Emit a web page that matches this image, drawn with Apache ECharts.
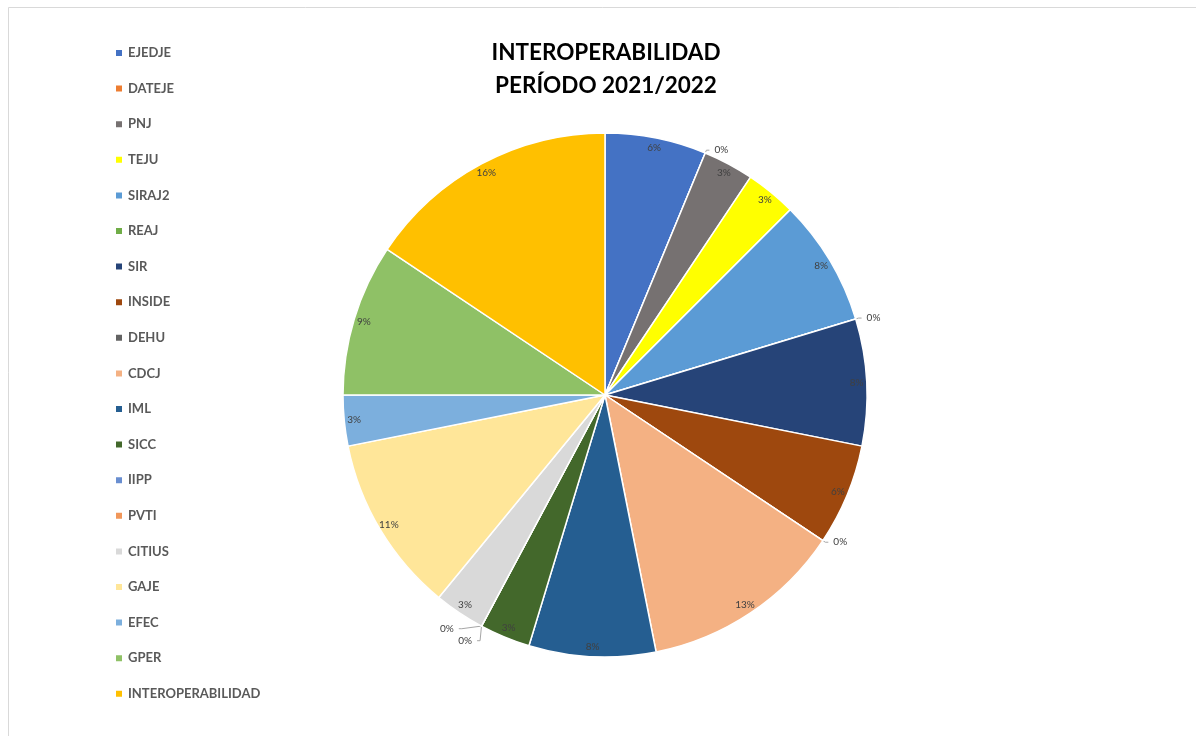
<!DOCTYPE html>
<html>
<head>
<meta charset="utf-8">
<script src="https://cdn.jsdelivr.net/npm/echarts@6/dist/echarts.min.js"></script>
<style>html,body{margin:0;padding:0;background:#fff;}#c{width:1196px;height:736px;}</style>
</head>
<body>
<div id="c"></div>
<script>
const categories = ['EJEDJE','DATEJE','PNJ','TEJU','SIRAJ2','REAJ','SIR','INSIDE','DEHU','CDCJ','IML','SICC','IIPP','PVTI','CITIUS','GAJE','EFEC','GPER','INTEROPERABILIDAD'];
const values = [4,0,2,2,5,0,5,4,0,8,5,2,0,0,2,7,2,6,10];
const colors = ['#4472C4','#ED7D31','#767171','#FFFF00','#5B9BD5','#70AD47','#264478','#9E480E','#636363','#F4B183','#255E91','#43682B','#698ED0','#F1975A','#D9D9D9','#FFE699','#7CAFDD','#8FC166','#FFC000'];
const titleText = 'INTEROPERABILIDAD\nPERÍODO 2021/2022';

const total = values.reduce((a,b)=>a+b,0);
const pct = v => Math.round(v/total*100) + '%';
const font = 'Lato, "Open Sans", sans-serif';

const mainData = categories.map((n,i)=>({
  name:n, value:values[i],
  itemStyle:{color:colors[i]},
  label: values[i]===0 ? {show:true} : {show:false},
  labelLine: values[i]===0 ? {show:true} : {show:false}
}));
const labelData = categories.map((n,i)=>({
  name:n, value:values[i],
  label:{show: values[i]!==0}
}));

const chart = echarts.init(document.getElementById('c'));
chart.setOption({
  animation:false,
  backgroundColor:'#fff',
  color: colors,
  title:{
    text:titleText, left:606, top:36, textAlign:'center', padding:0,
    textStyle:{fontFamily:font, fontWeight:'bold', fontSize:22.5, lineHeight:33, color:'#000'}
  },
  legend:{
    orient:'vertical', left:114, top:46, padding:0,
    itemWidth:8, itemHeight:8, itemGap:21.6, icon:'rect',
    data: categories,
    textStyle:{fontFamily:font, fontWeight:'bold', fontSize:13, lineHeight:14, color:'#595959'}
  },
  graphic:[{type:'rect', shape:{x:8.5,y:7.5,width:1200,height:740}, style:{fill:'none', stroke:'#d9d9d9', lineWidth:1}, silent:true}],
  series:[
    {
      type:'pie', name:'main', center:[605,395], radius:[0,262], startAngle:90, clockwise:true,
      data: mainData, silent:true,
      itemStyle:{borderColor:'#fff', borderWidth:1.5},
      label:{position:'outside', formatter:p=>pct(p.value), fontFamily:font, fontSize:10, color:'#404040'},
      labelLine:{length:3, length2:3, lineStyle:{color:'#a6a6a6', width:1}},
      avoidLabelOverlap:true
    },
    {
      type:'pie', name:'labels', center:[605,395], radius:[236,262], startAngle:90, clockwise:true,
      data: labelData, silent:true, legendHoverLink:false,
      itemStyle:{color:'rgba(0,0,0,0)', borderWidth:0},
      label:{position:'inside', formatter:p=>pct(p.value), fontFamily:font, fontSize:10, color:'#404040'},
      labelLine:{show:false}
    }
  ]
});
</script>
</body>
</html>
